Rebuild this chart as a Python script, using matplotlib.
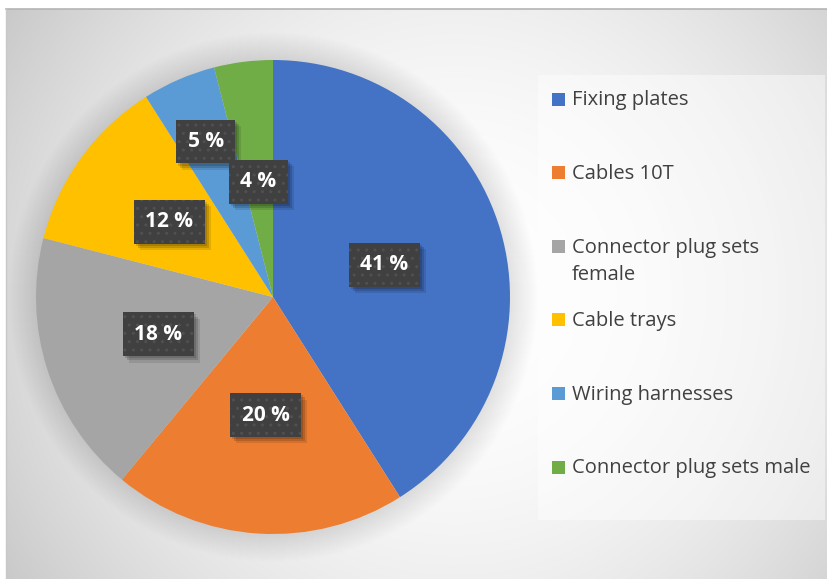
import numpy as np
import matplotlib
matplotlib.use("Agg")
import matplotlib.pyplot as plt
from matplotlib.patches import Rectangle, Circle
from matplotlib import patheffects as pe

# ---- data -------------------------------------------------------------
categories = [
    "Fixing plates",
    "Cables 10T",
    "Connector plug sets\nfemale",
    "Cable trays",
    "Wiring harnesses",
    "Connector plug sets male",
]
shares = [41, 20, 18, 12, 5, 4]
colors = ["#4472C4", "#ED7D31", "#A5A5A5", "#FFC000", "#5B9BD5", "#70AD47"]

# radial position of each percentage label (fraction of the radius)
label_radius = [0.49, 0.50, 0.51, 0.54, 0.715, 0.49]

W, H = 828, 579
fig = plt.figure(figsize=(W / 100, H / 100), dpi=100)
fig.patch.set_facecolor("white")

# ---- background: chart area with a soft radial gradient ----------------
bg = fig.add_axes([0, 0, 1, 1])
bg.set_xlim(0, W)
bg.set_ylim(H, 0)
bg.axis("off")

x0, y0, x1, y1 = 6, 9, W, H
xx, yy = np.meshgrid(np.arange(x0, x1) + 0.5, np.arange(y0, y1) + 0.5)
cx, cy = 455, 295
r = np.hypot(xx - cx, yy - cy) / 560.0
shade = 255 - 60 * np.clip(r, 0, 1.2) ** 2.0
img = np.dstack([shade, shade, shade]) / 255.0
bg.imshow(img, extent=(x0, x1, y1, y0), interpolation="bilinear", zorder=0)
bg.plot([x0, x1], [y0, y0], color="#b4b4b4", lw=1.2, zorder=1)
bg.plot([x0, x0], [y0, y1], color="#c8c8c8", lw=1.0, zorder=1)

# legend panel
bg.add_patch(Rectangle((538, 75), 287, 445, facecolor="white", alpha=0.45,
                       edgecolor="none", zorder=2))

# legend entries (each line of a label drawn on its own baseline)
leg_top, leg_step, line_step = 99, 73.6, 27
for i, (name, col) in enumerate(zip(categories, colors)):
    yc = leg_top + i * leg_step
    bg.add_patch(Rectangle((552, yc - 6.5), 13, 13, facecolor=col,
                           edgecolor="none", zorder=3))
    for j, line in enumerate(name.split("\n")):
        bg.text(572, yc + 6.5 + j * line_step, line, fontsize=14.5,
                family="Open Sans", color="#404040",
                va="baseline", ha="left", zorder=3)

# ---- pie ---------------------------------------------------------------
pcx, pcy, R = 273, 297, 237
ax = fig.add_axes([(pcx - R) / W, (H - pcy - R) / H, 2 * R / W, 2 * R / H])
ax.patch.set_alpha(0)

# soft shadow ring around the pie
n_ring = 28
for k in range(n_ring):
    ax.add_patch(Circle((0, 0), 1.0 + (k + 1) * 0.0042, facecolor="black",
                        alpha=0.004, edgecolor="none", clip_on=False, zorder=0))

wedges, _ = ax.pie(shares, colors=colors, startangle=90, counterclock=False,
                   radius=1.0, wedgeprops=dict(linewidth=0, zorder=2))
ax.set_xlim(-1, 1)
ax.set_ylim(-1, 1)
ax.axis("off")

box_kw = dict(boxstyle="square,pad=0.55", facecolor="#404040",
              edgecolor="#505050", linewidth=0, hatch="..")
box_shadow = [
    pe.SimplePatchShadow(offset=(4.5, -4.5), shadow_rgbFace="black",
                         alpha=0.10, hatch=None),
    pe.SimplePatchShadow(offset=(3, -3), shadow_rgbFace="black",
                         alpha=0.14, hatch=None),
    pe.SimplePatchShadow(offset=(1.5, -1.5), shadow_rgbFace="black",
                         alpha=0.14, hatch=None),
    pe.Normal(),
]
for w, val, rr in zip(wedges, shares, label_radius):
    ang = np.deg2rad((w.theta1 + w.theta2) / 2)
    tx, ty = rr * np.cos(ang), rr * np.sin(ang)
    t = ax.text(tx, ty, f"{val} %", fontsize=15, family="Open Sans",
                weight="bold", color="white", ha="center", va="center",
                bbox=box_kw, zorder=5)
    t.get_bbox_patch().set_path_effects(box_shadow)

fig.savefig("out.png", dpi=100)
